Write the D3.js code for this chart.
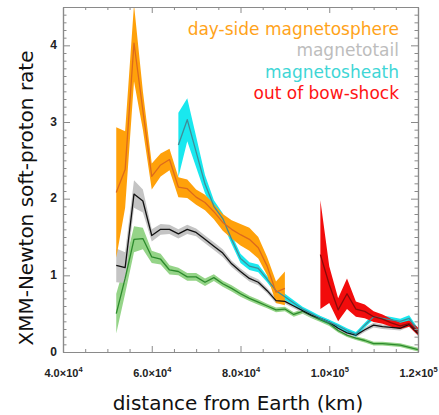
<!DOCTYPE html>
<html>
<head>
<meta charset="utf-8">
<script src="https://cdn.jsdelivr.net/npm/d3@7"></script>
<style>
  body { margin: 0; background: #fff; }
  svg { display: block; }
</style>
</head>
<body>
<svg id="chart" width="439" height="415"></svg>
<script>
// Distance bins (km) shared by all series
const distanceKm = [52000, 54000, 56000, 58000, 60000, 62000, 64000, 66000, 68000, 70000,
                    72000, 74000, 76000, 78000, 80000, 82000, 84000, 86000, 88000, 90000,
                    92000, 94000, 96000, 98000, 100000, 102000, 104000, 106000, 108000, 110000,
                    112000, 114000, 116000, 118000, 120000];

// Day-side magnetosphere: 52,000 - 90,000 km
const daysideRate = [2.08, 2.38, 4.03, 3.15, 2.29, 2.44, 2.51, 2.15, 2.13, 2.02,
                     1.95, 1.83, 1.69, 1.60, 1.53, 1.47, 1.36, 1.12, 0.78, 0.83];
const daysideErr  = [0.85, 0.50, 0.50, 0.25, 0.17, 0.15, 0.14, 0.13, 0.12, 0.10,
                     0.10, 0.10, 0.11, 0.12, 0.14, 0.15, 0.14, 0.12, 0.14, 0.22];

// Magnetotail: 52,000 - 120,000 km
const tailRate = [1.13, 1.10, 2.06, 1.97, 1.52, 1.60, 1.60, 1.54, 1.60, 1.56,
                  1.47, 1.38, 1.29, 1.15, 1.05, 0.96, 0.91, 0.80, 0.67, 0.66,
                  0.60, 0.54, 0.48, 0.44, 0.39, 0.31, 0.25, 0.22, 0.29, 0.35,
                  0.33, 0.32, 0.31, 0.36, 0.24];
const tailErr  = [0.22, 0.20, 0.18, 0.15, 0.08, 0.07, 0.06, 0.06, 0.06, 0.05,
                  0.05, 0.05, 0.05, 0.04, 0.04, 0.04, 0.04, 0.035, 0.035, 0.03,
                  0.03, 0.03, 0.03, 0.03, 0.03, 0.03, 0.03, 0.03, 0.03, 0.03,
                  0.03, 0.03, 0.03, 0.03, 0.03];

// Magnetosheath: 66,000 - 120,000 km
const sheathRate = [2.70, 3.03, 2.61, 2.19, 1.90, 1.74, 1.47, 1.22, 1.12, 1.09,
                    0.95, 0.80, 0.72, 0.64, 0.56, 0.50, 0.44, 0.39, 0.34, 0.28,
                    0.23, 0.35, 0.46, 0.44, 0.42, 0.40, 0.44, 0.27];
const sheathErr  = [0.42, 0.28, 0.20, 0.12, 0.08, 0.07, 0.06, 0.06, 0.05, 0.05,
                    0.04, 0.04, 0.04, 0.035, 0.03, 0.03, 0.03, 0.03, 0.03, 0.03,
                    0.03, 0.03, 0.035, 0.035, 0.035, 0.035, 0.04, 0.04];

// Out of bow-shock: 98,000 - 120,000 km
const bowShockRate = [1.27, 0.88, 0.55, 0.76, 0.56, 0.53, 0.46, 0.43, 0.38, 0.34, 0.37, 0.27];
const bowShockErr  = [0.71, 0.24, 0.15, 0.20, 0.10, 0.09, 0.07, 0.06, 0.05, 0.04, 0.04, 0.05];

// Green curve: 52,000 - 120,000 km
const greenRate = [0.50, 0.96, 1.47, 1.48, 1.24, 1.21, 1.07, 1.05, 0.98, 0.98,
                   0.91, 0.97, 0.89, 0.83, 0.76, 0.70, 0.65, 0.60, 0.55, 0.56,
                   0.49, 0.53, 0.47, 0.42, 0.37, 0.28, 0.22, 0.18, 0.15, 0.11,
                   0.11, 0.10, 0.09, 0.06, 0.03];
const greenErr  = [0.26, 0.20, 0.17, 0.14, 0.08, 0.07, 0.06, 0.05, 0.05, 0.05,
                   0.05, 0.045, 0.04, 0.04, 0.04, 0.035, 0.035, 0.03, 0.03, 0.03,
                   0.03, 0.03, 0.03, 0.03, 0.03, 0.025, 0.025, 0.025, 0.025, 0.025,
                   0.025, 0.025, 0.025, 0.025, 0.025];

// Axis ticks and labels
const xMajorTicks = [40000, 60000, 80000, 100000, 120000];
const xTickMantissa = ["4.0", "6.0", "8.0", "1.0", "1.2"];
const xTickExponent = ["4", "4", "4", "5", "5"];
const xMinorTicks = [45000, 50000, 55000, 65000, 70000, 75000, 85000, 90000, 95000, 105000, 110000, 115000];
const yMajorTicks = [0, 1, 2, 3, 4];
const yMinorTicks = [0.1,0.2,0.3,0.4,0.5,0.6,0.7,0.8,0.9,1.1,1.2,1.3,1.4,1.5,1.6,1.7,1.8,1.9,
                     2.1,2.2,2.3,2.4,2.5,2.6,2.7,2.8,2.9,3.1,3.2,3.3,3.4,3.5,3.6,3.7,3.8,3.9,
                     4.1,4.2,4.3,4.4];

const legendLabels = ["day-side magnetosphere", "magnetotail", "magnetosheath", "out of bow-shock"];
const legendColors = ["#ffa31a", "#bdbdbd", "#3fd6d6", "#ff1414"];

// Build series records (start index into distanceKm)
function buildSeries(rate, err, startKm) {
  const i0 = distanceKm.indexOf(startKm);
  return rate.map((v, i) => ({ d: distanceKm[i0 + i], v: v, e: err[i] }));
}
const series = [
  { data: buildSeries(greenRate, greenErr, 52000), band: "#95d488", line: "#2c8a2c" },
  { data: buildSeries(tailRate, tailErr, 52000), band: "#c4c4c4", line: "#111111" },
  { data: buildSeries(sheathRate, sheathErr, 66000), band: "#19e8ef", line: "#3f8d98" },
  { data: buildSeries(daysideRate, daysideErr, 52000), band: "#ffa10a", line: "#dd6a1c" },
  { data: buildSeries(bowShockRate, bowShockErr, 98000), band: "#f20c0c", line: "#8a0a0a" }
];

const svg = d3.select("#chart");
const plotLeft = 63, plotRight = 418, plotTop = 7, plotBottom = 352;

const x = d3.scaleLinear().domain([40000, 120000]).range([plotLeft, plotRight]);
const y = d3.scaleLinear().domain([0, 4.5]).range([plotBottom, plotTop]);

svg.append("defs").append("clipPath").attr("id", "plotClip")
  .append("rect").attr("x", plotLeft).attr("y", plotTop)
  .attr("width", plotRight - plotLeft).attr("height", plotBottom - plotTop);

const plot = svg.append("g").attr("clip-path", "url(#plotClip)");

const band = d3.area()
  .x(d => x(d.d))
  .y0(d => y(d.v - d.e))
  .y1(d => y(d.v + d.e));
const line = d3.line()
  .x(d => x(d.d))
  .y(d => y(d.v));

series.forEach(s => {
  plot.append("path").attr("d", band(s.data)).attr("fill", s.band).attr("stroke", "none");
});
series.forEach(s => {
  plot.append("path").attr("d", line(s.data)).attr("fill", "none")
    .attr("stroke", s.line).attr("stroke-width", 1.3).attr("stroke-linejoin", "round");
});

// Axes: ticks point inward, frame drawn by the domain lines
const frameColor = "#8a8a8a";
function styleAxis(g) {
  g.selectAll(".domain").attr("stroke", frameColor).attr("stroke-width", 1.2);
  g.selectAll(".tick line").attr("stroke", frameColor).attr("stroke-width", 1);
}

const xMajor = svg.append("g").attr("transform", `translate(0,${plotBottom})`)
  .call(d3.axisBottom(x).tickValues(xMajorTicks).tickSizeInner(-6).tickSizeOuter(0).tickFormat(""));
styleAxis(xMajor);
const xMinor = svg.append("g").attr("transform", `translate(0,${plotBottom})`)
  .call(d3.axisBottom(x).tickValues(xMinorTicks).tickSizeInner(-3).tickSizeOuter(0).tickFormat(""));
styleAxis(xMinor);
const xTop = svg.append("g").attr("transform", `translate(0,${plotTop})`)
  .call(d3.axisTop(x).tickValues(xMajorTicks).tickSizeInner(-6).tickSizeOuter(0).tickFormat(""));
styleAxis(xTop);
const xTopMinor = svg.append("g").attr("transform", `translate(0,${plotTop})`)
  .call(d3.axisTop(x).tickValues(xMinorTicks).tickSizeInner(-3).tickSizeOuter(0).tickFormat(""));
styleAxis(xTopMinor);

const yMajor = svg.append("g").attr("transform", `translate(${plotLeft},0)`)
  .call(d3.axisLeft(y).tickValues(yMajorTicks).tickSizeInner(-7).tickSizeOuter(0).tickPadding(6).tickFormat(d3.format("d")));
styleAxis(yMajor);
const yMinor = svg.append("g").attr("transform", `translate(${plotLeft},0)`)
  .call(d3.axisLeft(y).tickValues(yMinorTicks).tickSizeInner(-3.5).tickSizeOuter(0).tickFormat(""));
styleAxis(yMinor);
const yRight = svg.append("g").attr("transform", `translate(${plotRight},0)`)
  .call(d3.axisRight(y).tickValues(yMajorTicks).tickSizeInner(-7).tickSizeOuter(0).tickFormat(""));
styleAxis(yRight);
const yRightMinor = svg.append("g").attr("transform", `translate(${plotRight},0)`)
  .call(d3.axisRight(y).tickValues(yMinorTicks).tickSizeInner(-3.5).tickSizeOuter(0).tickFormat(""));
styleAxis(yRightMinor);

yMajor.selectAll(".tick text")
  .attr("font-family", "'Liberation Sans', Arial, sans-serif")
  .attr("font-weight", "bold").attr("font-size", 12).attr("fill", "#222")
  .attr("dy", "0.25em");

// x tick labels with scientific notation
xMajor.selectAll(".tick").each(function (d, i) {
  const t = d3.select(this).append("text")
    .attr("y", 25).attr("text-anchor", "middle")
    .attr("font-family", "'Liberation Sans', Arial, sans-serif")
    .attr("font-weight", "bold").attr("font-size", 11).attr("fill", "#222");
  t.append("tspan").text(xTickMantissa[i] + "\u00d710");
  t.append("tspan").attr("dy", -5).attr("font-size", 7.5).text(xTickExponent[i]);
});

// Axis titles
svg.append("text")
  .attr("transform", `translate(33,${(plotBottom + 44) / 2}) rotate(-90)`)
  .attr("text-anchor", "middle")
  .attr("font-family", "'DejaVu Sans', Verdana, sans-serif")
  .attr("font-size", 20).attr("fill", "#111")
  .text("XMM-Newton soft-proton rate");

svg.append("text")
  .attr("x", 238).attr("y", 410)
  .attr("text-anchor", "middle")
  .attr("font-family", "'DejaVu Sans', Verdana, sans-serif")
  .attr("font-size", 20).attr("fill", "#111")
  .text("distance from Earth (km)");

// Legend
const legend = svg.append("g");
legendLabels.forEach((label, i) => {
  legend.append("text")
    .attr("x", 399).attr("y", 35 + i * 21.3)
    .attr("text-anchor", "end")
    .attr("font-family", "'DejaVu Sans', Verdana, sans-serif")
    .attr("font-size", 17).attr("fill", legendColors[i])
    .text(label);
});
</script>
</body>
</html>
